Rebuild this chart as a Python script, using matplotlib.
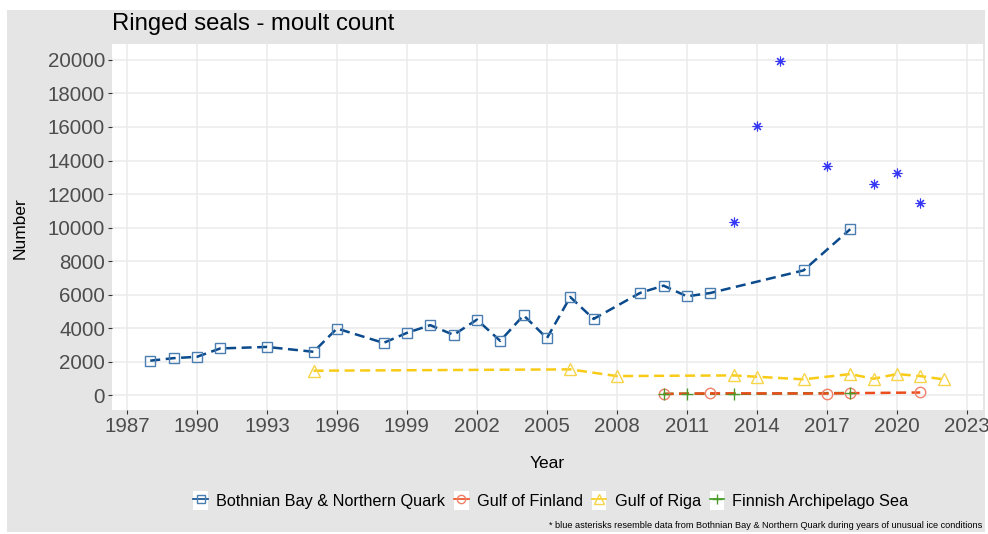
import matplotlib.pyplot as plt
from matplotlib.legend_handler import HandlerLine2D
from matplotlib.patches import Rectangle
from matplotlib.lines import Line2D

plt.rcParams['font.family'] = ['Liberation Sans', 'DejaVu Sans']

# Bothnian Bay & Northern Quark
bb_years = [1988, 1989, 1990, 1991, 1993, 1995, 1996, 1998, 1999, 2000, 2001, 2002,
            2003, 2004, 2005, 2006, 2007, 2009, 2010, 2011, 2012, 2016, 2018]
bb_vals = [2050, 2200, 2280, 2780, 2870, 2580, 3970, 3110, 3710, 4170, 3590, 4500,
           3230, 4760, 3390, 5850, 4540, 6100, 6530, 5890, 6090, 7440, 9900]

# unusual ice years (blue asterisks)
ice_years = [2013, 2014, 2015, 2017, 2019, 2020, 2021]
ice_vals = [10320, 16050, 19930, 13650, 12600, 13270, 11490]

# Gulf of Riga
riga_years = [1995, 2006, 2008, 2013, 2014, 2016, 2018, 2019, 2020, 2021, 2022]
riga_vals = [1450, 1530, 1130, 1170, 1090, 935, 1250, 970, 1250, 1130, 935]

# Gulf of Finland
fin_years = [2010, 2012, 2017, 2018, 2021]
fin_vals = [60, 100, 90, 110, 150]

# Finnish Archipelago Sea
arch_years = [2010, 2011, 2013, 2018]
arch_vals = [70, 80, 70, 120]

bg = '#E5E5E5'
fig = plt.figure(figsize=(9.88, 5.34), dpi=100)
fig.patch.set_facecolor('white')
fig.patches.append(Rectangle((7 / 988, 2 / 534), 978 / 988, 522 / 534,
                             transform=fig.transFigure, facecolor=bg,
                             edgecolor='none', zorder=-10))

ax = fig.add_axes([112 / 988, 1 - 410 / 534, 871 / 988, 366 / 534])
ax.set_facecolor('white')

dash = (0, (4, 2.2))
lw = 1.8

ax.plot(arch_years, arch_vals, color='#3A9A1C', lw=lw, linestyle=dash, zorder=2)
ax.plot(bb_years, bb_vals, color='#0B4A8C', lw=lw, linestyle=dash, zorder=3)
ax.plot(riga_years, riga_vals, color='#F8CB16', lw=lw, linestyle=dash, zorder=3)
ax.plot(fin_years, fin_vals, color='#EC4B1C', lw=lw, linestyle=dash, zorder=3)

ax.plot(bb_years, bb_vals, ls='none', marker='s', ms=7.5, mfc='none',
        mec='#4A7DB0', mew=1.0, zorder=4)
ax.plot(riga_years, riga_vals, ls='none', marker='^', ms=8.5, mfc='none',
        mec='#F6D54A', mew=1.0, zorder=4)
ax.plot(fin_years, fin_vals, ls='none', marker='o', ms=7.5, mfc='none',
        mec='#F08068', mew=1.0, zorder=4)
ax.plot(arch_years, arch_vals, ls='none', marker='+', ms=9, mec='#4C9A2A',
        mew=1.0, zorder=5)
ax.plot(ice_years, ice_vals, ls='none', marker=(8, 2, 0), ms=7, mec='#3535F5',
        mew=0.8, zorder=5)

ax.set_xlim(1986.36, 2023.69)
ax.set_ylim(-895, 20955)
ax.set_xticks(range(1987, 2024, 3))
ax.set_yticks(range(0, 20001, 2000))
ax.grid(True, color='#EBEBEB', lw=1.1)
ax.set_axisbelow(True)
for s in ax.spines.values():
    s.set_visible(False)
ax.tick_params(axis='both', labelsize=14.8, colors='#333333', labelcolor='#4D4D4D',
               length=3, width=0.8, pad=2)

fig.text(112 / 988, 1 - 24 / 534, 'Ringed seals - moult count', fontsize=17.2,
         ha='left', va='center', color='black')
fig.text(547 / 988, 1 - 463 / 534, 'Year', fontsize=12.5, ha='center', va='center')
fig.text(20 / 988, 1 - 228 / 534, 'Number', fontsize=12.5, ha='center', va='center',
         rotation=90)
fig.text(982 / 988, 1 - 525 / 534,
         '* blue asterisks resemble data from Bothnian Bay & Northern Quark during years of unusual ice conditions',
         fontsize=6.6, ha='right', va='center')


class KeyHandler(HandlerLine2D):
    def create_artists(self, legend, orig_handle, xdescent, ydescent, width,
                       height, fontsize, trans):
        box = Rectangle((-xdescent, -ydescent - 2), width, height + 4,
                        facecolor='white', edgecolor='none', transform=trans)
        arts = super().create_artists(legend, orig_handle, xdescent, ydescent,
                                      width, height, fontsize, trans)
        return [box] + list(arts)


handles = [
    Line2D([], [], color='#0B4A8C', lw=1.2, marker='s', ms=6, mfc='none', mec='#4A7DB0'),
    Line2D([], [], color='#EC4B1C', lw=1.2, marker='o', ms=6, mfc='none', mec='#F08068'),
    Line2D([], [], color='#F8CB16', lw=1.2, marker='^', ms=6.5, mfc='none', mec='#F6D54A'),
    Line2D([], [], color='#3A9A1C', lw=1.2, marker='+', ms=7, mec='#4C9A2A'),
]
labels = ['Bothnian Bay & Northern Quark', 'Gulf of Finland', 'Gulf of Riga',
          'Finnish Archipelago Sea']
leg = fig.legend(handles, labels, loc='center', bbox_to_anchor=(551 / 988, 1 - 501 / 534),
                 ncol=4, frameon=False, fontsize=11.7, handlelength=0.9,
                 handleheight=0.9, handletextpad=0.5, columnspacing=0.55,
                 handler_map={Line2D: KeyHandler()})

fig.savefig('out.png', dpi=100, facecolor=fig.get_facecolor())
